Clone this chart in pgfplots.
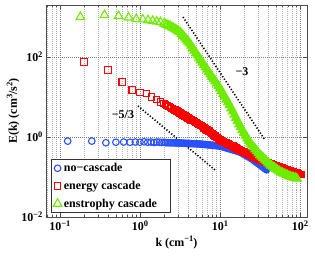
\documentclass[border=0pt]{standalone}
\usepackage{fontspec}
\setmainfont{Liberation Serif}
\usepackage{pgfplots}
\pgfplotsset{compat=1.18}
\definecolor{cblue}{RGB}{40,80,255}
\definecolor{cred}{RGB}{255,0,0}
\definecolor{cgreen}{RGB}{110,235,0}
\newcommand{\sx}[1]{\raisebox{0.8ex}{\fontsize{8.5}{9}\selectfont #1}}
\newcommand{\tf}{\bfseries\fontsize{12}{14}\selectfont}
\begin{document}
\begin{tikzpicture}
\begin{axis}[
  xmode=log, ymode=log,
  scale only axis, width=261bp, height=212bp,
  xmin=0.067, xmax=122, ymin=0.01, ymax=2000,
  xtick={0.1,1,10,100},
  xticklabels={10\sx{−1},10\sx{0},10\sx{1},10\sx{2}},
  minor xtick={0.07,0.08,0.09,0.2,0.3,0.4,0.5,0.6,0.7,0.8,0.9,2,3,4,5,6,7,8,9,20,30,40,50,60,70,80,90},
  ytick={0.01,1,100},
  yticklabels={10\sx{−2},10\sx{0},10\sx{2}},
  xmajorgrids, xminorgrids, ymajorgrids,
  major grid style={black!50, dash pattern=on 0.6pt off 1.4pt},
  minor grid style={black!30, dash pattern=on 0.6pt off 1.4pt},
  axis line style={black!70},
  tick style={black!70},
  major tick length=4bp, minor tick length=2bp,
  tick label style={font=\tf},
  xlabel={k (cm\sx{−1})},
  ylabel={E(k) (cm\sx{3}/s\sx{2})},
  label style={font=\tf},
  xlabel style={at={(axis description cs:0.5,-0.12)}, anchor=center},
  ylabel style={at={(axis description cs:-0.126,0.5)}, anchor=center},
  legend style={at={(0.019,0.019)}, anchor=south west, font=\tf, draw=black!80, row sep=4pt, inner sep=2pt, line width=0.6pt},
  legend cell align=left,
]
% no-cascade
\addplot[only marks, mark=o, mark size=3.3bp, cblue, line width=1.1pt] coordinates {
(0.125,0.79)(0.25,0.79)(0.375,0.72)(0.5,0.74)(0.625,0.75)(0.75,0.74)(0.875,0.75)(1.0,0.74)(1.125,0.76)(1.25,0.74)(1.375,0.75)(1.5,0.73)(1.625,0.75)(1.75,0.74)(1.875,0.73)(2.0,0.74)
(2.089,0.723)(2.188,0.721)(2.291,0.720)(2.399,0.718)(2.512,0.716)(2.630,0.715)(2.754,0.713)
};
\addlegendentry{no−cascade}
\addplot[forget plot, only marks, mark=*, mark size=3.3bp, cblue, line width=1.1pt] coordinates {
(2.884,0.711)(3.020,0.710)(3.162,0.708)(3.311,0.705)(3.467,0.702)(3.631,0.698)(3.802,0.695)(3.981,0.692)(4.169,0.689)(4.365,0.685)(4.571,0.682)(4.786,0.679)(5.012,0.676)(5.248,0.673)(5.495,0.670)(5.754,0.665)(6.026,0.659)(6.310,0.653)(6.607,0.647)(6.918,0.641)(7.244,0.635)(7.586,0.630)(7.943,0.624)(8.318,0.618)(8.710,0.612)(9.120,0.607)(9.550,0.601)(10.00,0.596)(10.47,0.579)(10.96,0.564)(11.48,0.548)(12.02,0.533)(12.59,0.519)(13.18,0.505)(13.80,0.491)(14.45,0.478)(15.14,0.465)(15.85,0.452)(16.60,0.440)(17.38,0.428)(18.20,0.410)(19.05,0.389)(19.95,0.369)(20.89,0.349)(21.88,0.331)(22.91,0.314)(23.99,0.297)(25.12,0.282)(26.30,0.263)(27.54,0.245)(28.84,0.229)(30.20,0.214)(31.62,0.200)(33.11,0.186)(34.67,0.174)(36.31,0.162)(38.02,0.151)
};
% energy cascade
\addplot[only marks, mark=square, mark size=3.2bp, cred, line width=1.1pt] coordinates {
(0.2,75)(0.4,47)(0.6,23.7)(0.8,15)(1.0,13.1)(1.2,12.3)(1.4,10)(1.6,8.6)(1.8,7.5)(2.0,6.8)
(2.089,6.41)(2.188,6.08)(2.291,5.77)(2.399,5.47)(2.512,5.19)(2.630,4.92)(2.754,4.67)
};
\addlegendentry{energy cascade}
\addplot[forget plot, only marks, mark=square*, mark size=3.2bp, cred, line width=1.1pt] coordinates {
(2.884,4.43)(3.020,4.20)(3.162,3.98)(3.311,3.77)(3.467,3.56)(3.631,3.37)(3.802,3.19)(3.981,3.02)(4.169,2.86)(4.365,2.70)(4.571,2.56)(4.786,2.42)(5.012,2.29)(5.248,2.17)(5.495,2.05)(5.754,1.93)(6.026,1.81)(6.310,1.70)(6.607,1.59)(6.918,1.49)(7.244,1.40)(7.586,1.31)(7.943,1.22)(8.318,1.135)(8.710,1.05)(9.120,0.966)(9.550,0.895)(10.00,0.832)(10.47,0.796)(10.96,0.762)(11.48,0.730)(12.02,0.700)(12.59,0.673)(13.18,0.646)(13.80,0.621)(14.45,0.590)(15.14,0.560)(15.85,0.532)(16.60,0.506)(17.38,0.480)(18.20,0.457)(19.05,0.438)(19.95,0.418)(20.89,0.399)(21.88,0.382)(22.91,0.365)(23.99,0.349)(25.12,0.333)(26.30,0.318)(27.54,0.305)(28.84,0.291)(30.20,0.279)(31.62,0.266)(33.11,0.257)(34.67,0.248)(36.31,0.240)(38.02,0.232)(39.81,0.224)(41.69,0.217)(43.65,0.209)(45.71,0.203)(47.86,0.196)(50.12,0.189)(52.48,0.183)(54.95,0.177)(57.54,0.171)(60.26,0.166)(63.10,0.161)(66.07,0.156)(69.18,0.151)(72.44,0.146)(75.86,0.142)(79.43,0.137)(83.18,0.133)(87.10,0.129)(91.20,0.125)(95.50,0.121)(100.0,0.117)(102.4,0.115)
};
% enstrophy cascade
\addplot[only marks, mark=triangle, mark size=5bp, cgreen, line width=1.1pt] coordinates {
(0.18,1000)(0.36,1120)(0.54,1060)(0.72,975)(0.90,890)(1.08,871)(1.26,832)(1.44,800)(1.62,771)(1.80,743)
(1.995,684)(2.089,659)(2.188,635)(2.291,612)(2.399,587)(2.512,556)(2.630,526)(2.754,498)
};
\addlegendentry{enstrophy cascade\hspace*{9bp}}
\addplot[forget plot, only marks, mark=triangle*, mark size=5bp, cgreen, line width=1.1pt] coordinates {
(2.884,471)(3.020,446)(3.162,422)(3.311,378)(3.467,340)(3.631,305)(3.802,273)(3.981,245)(4.169,220)(4.365,192)(4.571,167)(4.786,146)(5.012,126)(5.248,110)(5.495,95.5)(5.754,83.2)(6.026,72.6)(6.310,63.4)(6.607,55.3)(6.918,48.3)(7.244,42.1)(7.586,36.8)(7.943,32.2)(8.318,28.2)(8.710,24.7)(9.120,21.6)(9.550,19.0)(10.00,16.6)(10.47,14.1)(10.96,12.0)(11.48,10.2)(12.02,8.67)(12.59,7.38)(13.18,6.28)(13.80,5.25)(14.45,4.37)(15.14,3.63)(15.85,3.02)(16.60,2.51)(17.38,2.09)(18.20,1.76)(19.05,1.50)(19.95,1.28)(20.89,1.09)(21.88,0.933)(22.91,0.798)(23.99,0.689)(25.12,0.617)(26.30,0.552)(27.54,0.494)(28.84,0.443)(30.20,0.396)(31.62,0.355)(33.11,0.325)(34.67,0.297)(36.31,0.272)(38.02,0.249)(39.81,0.228)(41.69,0.209)(43.65,0.194)(45.71,0.182)(47.86,0.170)(50.12,0.159)(52.48,0.149)(54.95,0.139)(57.54,0.132)(60.26,0.126)(63.10,0.121)(66.07,0.116)(69.18,0.111)(72.44,0.106)(75.86,0.102)(79.43,0.0995)(83.18,0.097)(87.10,0.0944)(91.20,0.0919)
};
\addplot[forget plot, black, line width=1.6pt, dash pattern=on 1.2pt off 1.9pt] coordinates {(3.45,1000) (36.5,0.841)};
\addplot[forget plot, black, line width=1.6pt, dash pattern=on 1.2pt off 1.9pt] coordinates {(0.944,5.96) (8.66,0.15)};
\node[font=\tf] at (axis cs:18.8,42) {−3};
\node[font=\tf] at (axis cs:0.613,3.55) {−5/3};
\end{axis}
\pgfresetboundingbox
\path[use as bounding box] ([shift={(-46bp,-45bp)}]current axis.south west) rectangle ([shift={(8bp,5bp)}]current axis.north east);
\end{tikzpicture}
\end{document}
